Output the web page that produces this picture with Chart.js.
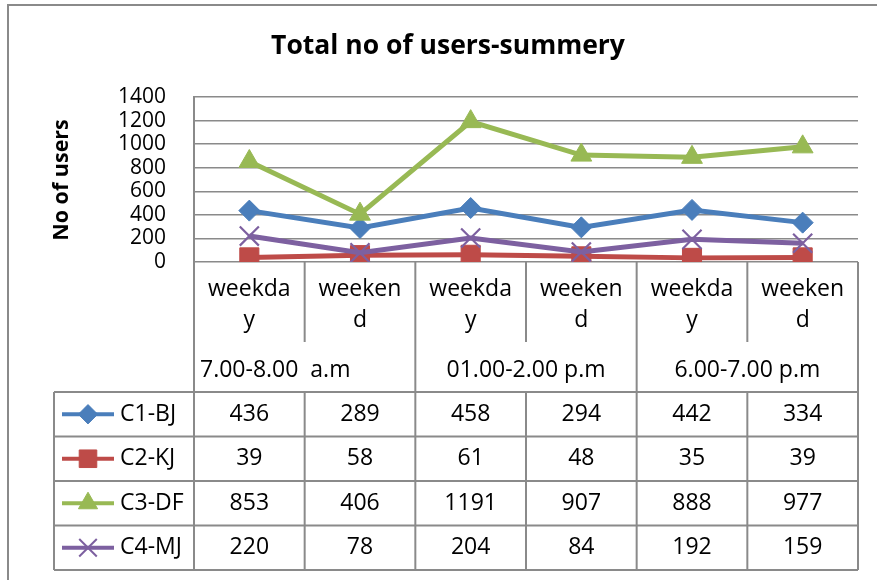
<!DOCTYPE html>
<html>
<head>
<meta charset="utf-8">
<script src="https://cdn.jsdelivr.net/npm/chart.js@4/dist/chart.umd.min.js"></script>
<style>
html,body{margin:0;padding:0;background:#fff;}
canvas{display:block;}
</style>
</head>
<body>
<canvas id="c" width="877" height="580"></canvas>
<script>
const chartTitle = "Total no of users-summery";
const yAxisTitle = "No of users";
const categories = ["weekday", "weekend", "weekday", "weekend", "weekday", "weekend"];
const groupLabels = ["7.00-8.00  a.m", "01.00-2.00 p.m", "6.00-7.00 p.m"];
const seriesNames = ["C1-BJ", "C2-KJ", "C3-DF", "C4-MJ"];
const c1BJ = [436, 289, 458, 294, 442, 334];
const c2KJ = [39, 58, 61, 48, 35, 39];
const c3DF = [853, 406, 1191, 907, 888, 977];
const c4MJ = [220, 78, 204, 84, 192, 159];
const yTicks = [0, 200, 400, 600, 800, 1000, 1200, 1400];

const colors = ["#4A7EBB", "#BE4B48", "#98B954", "#7D60A0"];
const styles = ["rectRot", "rect", "triangle", "crossRot"];
const radii = [10.5, 13.5, 12, 13.5];
const values = [c1BJ, c2KJ, c3DF, c4MJ];
const FONT = "'Open Sans', sans-serif";
const GRID = "#8a8a8a";

const datasets = seriesNames.map((n, i) => ({
  label: n,
  data: values[i],
  borderColor: colors[i],
  backgroundColor: colors[i],
  pointBackgroundColor: colors[i],
  pointBorderColor: colors[i],
  pointStyle: styles[i],
  pointRadius: radii[i],
  pointBorderWidth: i === 3 ? 2.2 : 1,
  borderWidth: 5,
  tension: 0,
  order: 4 - i
}));

const decor = {
  id: 'decor',
  beforeDraw(chart) {
    const ctx = chart.ctx;
    ctx.save();
    ctx.fillStyle = '#fff';
    ctx.fillRect(0, 0, chart.width, chart.height);
    ctx.strokeStyle = '#8a8a8a';
    ctx.lineWidth = 2;
    ctx.strokeRect(8, 5, chart.width + 10, chart.height + 10);
    ctx.restore();
  },
  afterDraw(chart) {
    const ctx = chart.ctx;
    const ca = chart.chartArea;
    const xs = chart.scales.x;
    const n = categories.length;
    const colW = (ca.right - ca.left) / n;
    const edge = i => ca.left + i * colW;
    const base = ca.bottom;
    const catEnd = base + 80;
    const tblTop = base + 130;
    const rowH = 44.5;
    const tblBottom = tblTop + rowH * seriesNames.length;
    const legLeft = 54;
    const line = (x1, y1, x2, y2) => { ctx.beginPath(); ctx.moveTo(x1, y1); ctx.lineTo(x2, y2); ctx.stroke(); };
    ctx.save();
    ctx.fillStyle = '#000';
    ctx.textAlign = 'center';
    ctx.textBaseline = 'middle';
    ctx.font = "bold 26.5px " + FONT;
    ctx.fillText(chartTitle, 448, 46);
    ctx.save();
    ctx.translate(62, 180);
    ctx.rotate(-Math.PI / 2);
    ctx.font = "bold 21.5px " + FONT;
    ctx.fillText(yAxisTitle, 0, 0);
    ctx.restore();

    ctx.strokeStyle = GRID;
    ctx.lineWidth = 2;
    for (let i = 0; i <= n; i++) {
      const x = edge(i);
      if (i % 2 === 0) line(x, base, x, tblBottom);
      else { line(x, base, x, catEnd); line(x, tblTop, x, tblBottom); }
    }
    line(legLeft, tblTop, legLeft, tblBottom);
    for (let r = 0; r <= seriesNames.length; r++) {
      const y = tblTop + r * rowH;
      line(legLeft, y, ca.right, y);
    }
    ctx.fillStyle = '#000';
    ctx.font = "23px " + FONT;
    for (let i = 0; i < n; i++) {
      const cx = xs.getPixelForValue(i);
      const t = categories[i];
      ctx.fillText(t.slice(0, 6), cx, base + 27);
      ctx.fillText(t.slice(6), cx, base + 58);
    }
    for (let g = 0; g < groupLabels.length; g++) {
      const x0 = edge(g * 2);
      const cx = (edge(g * 2) + edge(g * 2 + 2)) / 2;
      if (g === 0) { ctx.textAlign = 'left'; ctx.fillText(groupLabels[g], x0 + 6, base + 108); }
      else { ctx.textAlign = 'center'; ctx.fillText(groupLabels[g], cx, base + 108); }
    }
    for (let r = 0; r < seriesNames.length; r++) {
      const cy = tblTop + r * rowH + rowH / 2;
      ctx.strokeStyle = colors[r];
      ctx.lineWidth = 4;
      line(62, cy, 114, cy);
      ctx.fillStyle = colors[r];
      ctx.lineWidth = r === 3 ? 2 : 1;
      Chart.helpers.drawPoint(ctx, {pointStyle: styles[r], rotation: 0, radius: radii[r] * 0.92, borderWidth: r === 3 ? 2 : 1}, 88, cy);
      ctx.fillStyle = '#000';
      ctx.textAlign = 'left';
      ctx.textBaseline = 'middle';
      ctx.font = "23px " + FONT;
      ctx.fillText(seriesNames[r], 120, cy);
      ctx.textAlign = 'center';
      for (let i = 0; i < n; i++) {
        ctx.fillText(String(values[r][i]), xs.getPixelForValue(i), cy);
      }
    }
    ctx.restore();
  }
};

new Chart(document.getElementById('c'), {
  type: 'line',
  data: { labels: categories, datasets },
  options: {
    responsive: false,
    animation: false,
    devicePixelRatio: 1,
    layout: { padding: { top: 97, bottom: 318, left: 8, right: 19 } },
    plugins: { legend: { display: false }, title: { display: false }, tooltip: { enabled: false } },
    scales: {
      x: { display: false, offset: true },
      y: {
        min: yTicks[0], max: yTicks[yTicks.length - 1],
        afterBuildTicks(scale) { scale.ticks = yTicks.map(v => ({ value: v })); },
        afterFit(scale) { scale.width = 186; },
        grid: { color: GRID, lineWidth: 1.5, drawTicks: false },
        border: { display: true, color: GRID, width: 2 },
        ticks: { autoSkip: false, padding: 28, color: '#000', font: { family: FONT, size: 21 },
                 callback: (v) => String(v) }
      }
    }
  },
  plugins: [decor]
});
</script>
</body>
</html>
